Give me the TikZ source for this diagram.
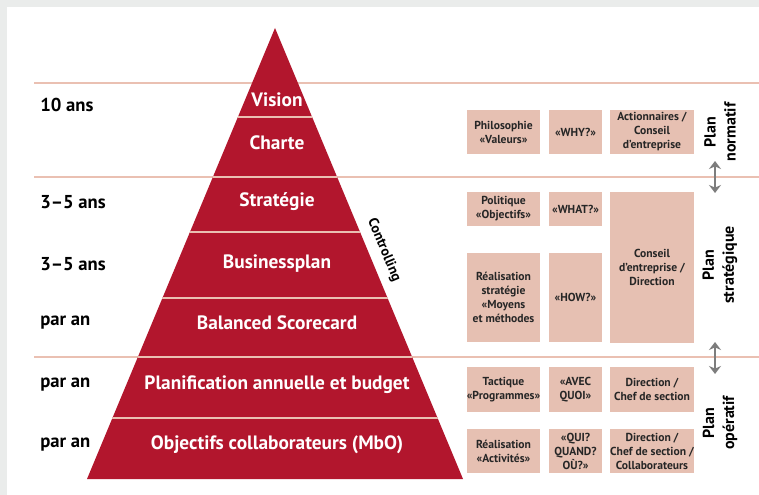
\documentclass[tikz,border=0pt]{standalone}
\usepackage{fontspec}
\setmainfont{PT Sans}
\usetikzlibrary{arrows.meta}

\definecolor{pyrred}{RGB}{178,22,45}
\definecolor{linepink}{RGB}{234,192,178}
\definecolor{boxpink}{RGB}{230,192,178}
\definecolor{framegray}{RGB}{234,236,235}
\definecolor{arrowgray}{RGB}{125,125,125}

\begin{document}
\begin{tikzpicture}[
    x=0.75pt, y=-0.75pt,
    % Styles for the levels, periods, cells and labels
    level/.style={text=white, font=\bfseries\fontsize{14.5}{16}\selectfont},
    period/.style={anchor=west, inner sep=0pt, font=\bfseries\fontsize{14}{16}\selectfont},
    cell/.style={fill=boxpink, align=center, inner sep=0pt, text=black!85,
        font=\bfseries\fontsize{8.7}{10.5}\selectfont},
    colA/.style={cell, minimum width=54.75pt},
    colB/.style={cell, minimum width=39.75pt},
    colC/.style={cell, minimum width=63pt},
    plan/.style={rotate=90, align=center, font=\bfseries\fontsize{12}{15}\selectfont},
    sep/.style={draw=linepink, line width=1.5pt},
    both/.style={{Stealth[length=6pt,width=9pt]}-{Stealth[length=6pt,width=9pt]},
        draw=arrowgray, line width=1.5pt}
]
    % Frame
    \useasboundingbox (0,0) rectangle (759,495);
    \fill[framegray] (0,0) rectangle (759,495);
    \fill[white] (7,7) rectangle (759,495);

    % Horizon lines
    \foreach \y in {83,177,357}
        \draw[sep] (34,\y) -- (759,\y);

    % Pyramid
    \fill[pyrred] (275,28) -- (463,479) -- (87,479) -- cycle;
    \begin{scope}
        \clip (275,28) -- (463,479) -- (87,479) -- cycle;
        \foreach \y in {117,177,232,298,357,418}
            \draw[sep] (0,\y) -- (759,\y);
    \end{scope}

    % Pyramid levels
    \node[level] (vision) at (277,100) {Vision};
    \node[level] (charte) at (277,143) {Charte};
    \node[level] (strat) at (277,202) {Stratégie};
    \node[level] (bplan) at (277,264) {Businessplan};
    \node[level] (bsc) at (277,323) {Balanced Scorecard};
    \node[level] (budget) at (277,385) {Planification annuelle et budget};
    \node[level] (mbo) at (277,445) {Objectifs collaborateurs (MbO)};

    \node[rotate=-67.4, font=\bfseries\fontsize{10.5}{12}\selectfont] (ctrl) at (384,250) {Controlling};

    % Periods
    \node[period] (p1) at (40,105) {10 ans};
    \node[period] (p2) at (40,202) {3–5 ans};
    \node[period] (p3) at (40,264) {3–5 ans};
    \node[period] (p4) at (40,323) {par an};
    \node[period] (p5) at (40,385) {par an};
    \node[period] (p6) at (40,445) {par an};

    % Cells, normative level
    \node[colA, minimum height=33pt] (philo) at (503.5,132) {Philosophie\\«Valeurs»};
    \node[colB, minimum height=33pt] (why) at (575.5,132) {«WHY?»};
    \node[colC, minimum height=33pt] (action) at (652,132) {Actionnaires /\\Conseil\\d’entreprise};

    % Cells, strategic level
    \node[colA, minimum height=25.5pt] (polit) at (503.5,209) {Politique\\«Objectifs»};
    \node[colB, minimum height=25.5pt] (what) at (575.5,209) {«WHAT?»};
    \node[colC, minimum height=113.25pt] (conseil) at (652,267.5) {Conseil\\d’entreprise /\\Direction};
    \node[colA, minimum height=66.75pt] (real) at (503.5,297.5) {Réalisation\\stratégie\\«Moyens\\et méthodes};
    \node[colB, minimum height=66.75pt] (how) at (575.5,297.5) {«HOW?»};

    % Cells, operative level
    \node[colA, minimum height=33.75pt] (tact) at (503.5,389.5) {Tactique\\«Programmes»};
    \node[colB, minimum height=33.75pt] (avec) at (575.5,389.5) {«AVEC\\QUOI»};
    \node[colC, minimum height=33.75pt] (dir) at (652,389.5) {Direction /\\Chef de section};
    \node[colA, minimum height=33pt] (activ) at (503.5,451) {Réalisation\\«Activités»};
    \node[colB, minimum height=33pt] (qui) at (575.5,451) {«QUI?\\QUAND?\\OÙ?»};
    \node[colC, minimum height=33pt] (collab) at (652,451) {Direction /\\Chef de section /\\Collaborateurs};

    % Plan labels
    \node[plan] (norm) at (720,132) {Plan\\normatif};
    \node[plan] (strp) at (720,265) {Plan\\stratégique};
    \node[plan] (oper) at (720,423) {Plan\\opératif};

    % Arrows between plans
    \coordinate (a1) at (715,161);
    \coordinate (a2) at (715,193);
    \coordinate (b1) at (715,342);
    \coordinate (b2) at (715,374);
    \draw[both] (a1) -- (a2);
    \draw[both] (b1) -- (b2);
\end{tikzpicture}
\end{document}
